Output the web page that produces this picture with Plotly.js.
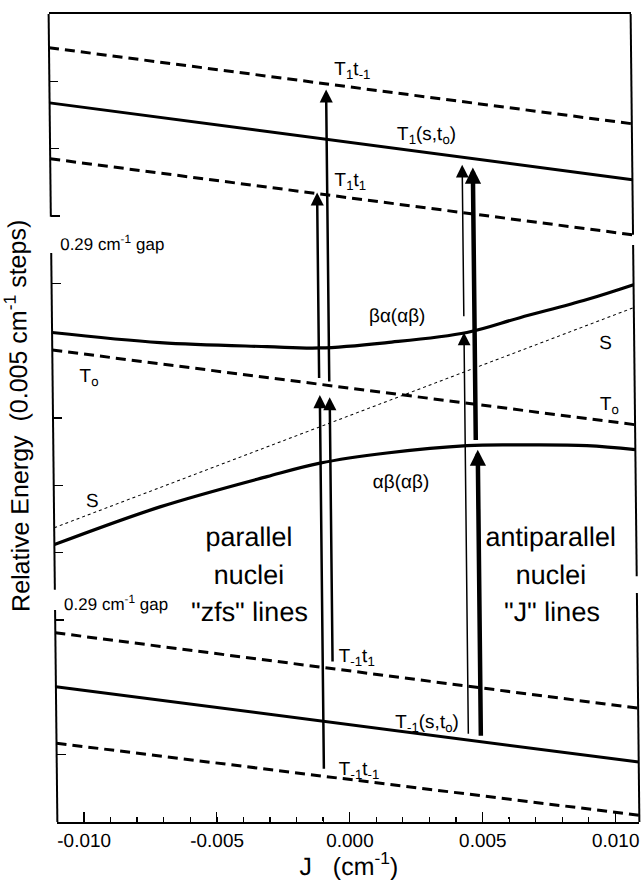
<!DOCTYPE html>
<html>
<head>
<meta charset="utf-8">
<script src="https://cdn.plot.ly/plotly-3.0.1.min.js"></script>
<style>
  html, body { margin: 0; padding: 0; background: #fff; }
  #chart { width: 642px; height: 880px; transform: skewX(0.62deg); transform-origin: 0 418px; }
</style>
</head>
<body>
<div id="chart"></div>
<script>
// J axis end points used for the straight levels (cm^-1)
const jEnds = [-0.011, 0.0109];

// Straight levels, energy in 0.005 cm^-1 steps at the two ends
const T1_tm1 = [11.50, 10.37];
const T1_s_t0 = [10.68, 9.54];
const T1_t1 = [9.85, 8.72];
const T0_level = [7.01, 5.90];
const S_level = [4.37, 7.64];
const Tm1_t1 = [2.81, 1.69];
const Tm1_s_t0 = [2.01, 0.89];
const Tm1_tm1 = [1.17, 0.10];

// Mixed S/T0 states read along J
const curveJ = [-0.011, -0.00694, -0.00292, -0.00093, 0.0016, 0.00461, 0.00661, 0.00914, 0.0109];
const betaAlpha = [7.27, 7.12, 7.06, 7.04, 7.12, 7.27, 7.49, 7.76, 7.98];
const curveJ2 = [-0.011, -0.00701, -0.00297, -0.00097, 0.00155, 0.00457, 0.00656, 0.00908, 0.0109];
const alphaBeta = [4.12, 4.68, 5.13, 5.33, 5.48, 5.59, 5.60, 5.59, 5.53];

// Transitions: J position, lower level, upper level, stroke weight
const arrowJ    = [-0.00097, -0.00059, -0.00095, -0.00058, 0.0045, 0.0049, 0.0045, 0.00497];
const arrowFrom = [6.57, 6.52, 0.77, 2.36, 7.49, 5.65, 1.29, 1.26];
const arrowTo   = [9.35, 10.88, 6.34, 6.31, 9.76, 9.72, 7.27, 5.53];
const arrowKind = ['mid', 'mid', 'mid', 'mid', 'thin', 'thick', 'thin', 'thick'];

// x-axis ticks
const xTickVals = [-0.010, -0.005, 0.000, 0.005, 0.010];
const xTickText = ['-0.010', '-0.005', '0.000', '0.005', '0.010'];
const yTickVals = [1, 2, 3, 4, 5, 6, 7, 8, 9, 10, 11];

const FONT = '"Liberation Sans", Arial, Helvetica, sans-serif';
const DASH = '10px,6px';

function level(y, dash, width) {
  return {
    x: jEnds, y: y, type: 'scatter', mode: 'lines', hoverinfo: 'skip',
    line: {color: '#000', width: width || 3, dash: dash || 'solid'}
  };
}

const traces = [
  level(T1_tm1, DASH), level(T1_s_t0), level(T1_t1, DASH),
  level(T0_level, DASH), level(S_level, '3px,3px', 1),
  level(Tm1_t1, DASH), level(Tm1_s_t0), level(Tm1_tm1, DASH),
  {x: curveJ, y: betaAlpha, type: 'scatter', mode: 'lines', hoverinfo: 'skip',
   line: {color: '#000', width: 3.2, shape: 'spline'}},
  {x: curveJ2, y: alphaBeta, type: 'scatter', mode: 'lines', hoverinfo: 'skip',
   line: {color: '#000', width: 3.2, shape: 'spline'}}
];

// Transition arrows drawn from the lower level up to the upper level
const arrowStyle = {
  thin:  {arrowwidth: 1.5, arrowsize: 1.7},
  mid:   {arrowwidth: 2.5, arrowsize: 1.05},
  thick: {arrowwidth: 4.5, arrowsize: 0.72}
};

const annotations = arrowJ.map((j, i) => Object.assign({
  x: j, y: arrowTo[i], ax: j, ay: arrowFrom[i],
  xref: 'x', yref: 'y', axref: 'x', ayref: 'y',
  text: '', showarrow: true, arrowhead: 2, arrowcolor: '#000',
  standoff: 0, startstandoff: 0
}, arrowStyle[arrowKind[i]]));

function label(text, x, y, size, anchor) {
  return {
    text: text, x: x, y: y, xref: 'x', yref: 'y', showarrow: false,
    xanchor: anchor || 'left', yanchor: 'middle',
    font: {family: FONT, size: size || 19, color: '#000'}
  };
}

annotations.push(
  label('T<sub>1</sub>t<sub>-1</sub>', -0.00036, 11.17),
  label('T<sub>1</sub>(s,t<sub>o</sub>)', 0.00198, 10.21),
  label('T<sub>1</sub>t<sub>1</sub>', -0.0004, 9.52),
  label('0.29 cm<sup>-1</sup> gap', -0.01074, 8.60, 17),
  label('βα(αβ)', 0.00198, 7.52, 19, 'center'),
  label('S', 0.00984, 7.12, 19, 'center'),
  label('T<sub>o</sub>', 0.00993, 6.20, 19, 'center'),
  label('T<sub>o</sub>', -0.00962, 6.61, 19, 'center'),
  label('S', -0.00957, 4.78, 19, 'center'),
  label('αβ(αβ)', 0.00207, 5.05, 19, 'center'),
  label('parallel', -0.00369, 4.23, 27, 'center'),
  label('nuclei', -0.00369, 3.67, 27, 'center'),
  label('"zfs" lines', -0.00369, 3.12, 27, 'center'),
  label('antiparallel', 0.0077, 4.23, 27, 'center'),
  label('nuclei', 0.0077, 3.67, 27, 'center'),
  label('"J" lines', 0.0077, 3.12, 27, 'center'),
  label('0.29 cm<sup>-1</sup> gap', -0.01074, 3.25, 17),
  label('T<sub>-1</sub>t<sub>1</sub>', -0.00041, 2.45),
  label('T<sub>-1</sub>(s,t<sub>o</sub>)', 0.00167, 1.47),
  label('T<sub>-1</sub>t<sub>-1</sub>', -0.00046, 0.77),
  {
    text: 'Relative Energy\u00A0\u00A0(0.005 cm<sup>-1</sup> steps)',
    textangle: -90, x: -0.062, y: 6.03, xref: 'paper', yref: 'y',
    xanchor: 'center', yanchor: 'middle', showarrow: false,
    font: {family: FONT, size: 25, color: '#000'}
  }
);

// Left and right frame pieces, broken at the two 0.29 cm^-1 gaps
const frame = [
  [0, 0, 3.15], [0, 3.45, 8.45], [0, 8.99, 12],
  [1, 0, 3.40], [1, 3.65, 8.57], [1, 8.72, 12]
].map(s => ({
  type: 'line', xref: 'paper', yref: 'y', x0: s[0], x1: s[0], y0: s[1], y1: s[2],
  line: {color: '#000', width: 2}
}));

const layout = {
  width: 642, height: 880,
  margin: {l: 53, r: 7, t: 14, b: 58},
  paper_bgcolor: '#fff', plot_bgcolor: '#fff',
  showlegend: false,
  font: {family: FONT, color: '#000'},
  xaxis: {
    range: [-0.011, 0.0109], tickvals: xTickVals, ticktext: xTickText,
    ticks: 'inside', ticklen: 10, tickwidth: 1.5, tickcolor: '#000',
    minor: {dtick: 0.001, tick0: 0, ticks: 'inside', ticklen: 5, tickwidth: 1.2, tickcolor: '#000'},
    showline: true, linewidth: 2, linecolor: '#000', mirror: true,
    showgrid: false, zeroline: false,
    tickfont: {family: FONT, size: 19, color: '#000'},
    title: {text: 'J\u00A0\u00A0\u00A0(cm<sup>-1</sup>)', font: {family: FONT, size: 25, color: '#000'}, standoff: 10}
  },
  yaxis: {
    range: [0, 12], tickvals: yTickVals, showticklabels: false,
    ticks: 'inside', ticklen: 9, tickwidth: 1.5, tickcolor: '#000',
    showline: false, showgrid: false, zeroline: false
  },
  shapes: frame,
  annotations: annotations
};

Plotly.newPlot('chart', traces, layout, {staticPlot: true, displayModeBar: false});
</script>
</body>
</html>
